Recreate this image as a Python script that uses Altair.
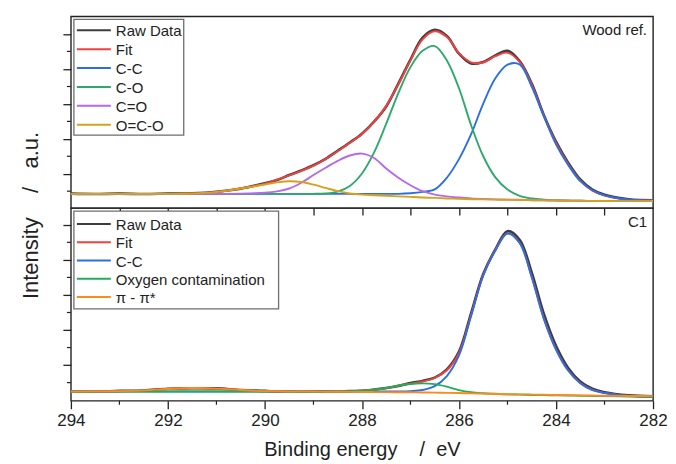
import altair as alt
import pandas as pd

# ---------------- data ----------------
E = [294, 293.5, 293, 292.5, 292, 291.5, 291, 290.5, 290, 289.75, 289.5, 289.25, 289,
     288.75, 288.5, 288.25, 288, 287.75, 287.5, 287.25, 287, 286.75, 286.5, 286.25, 286,
     285.75, 285.5, 285.25, 285, 284.75, 284.5, 284.25, 284, 283.75, 283.5, 283.25, 283,
     282.5, 282]

# Wood ref. panel
top_raw = [7.5, 7.3, 7.5, 7.3, 7.5, 7.7, 8.5, 10.1, 12.9, 14.6, 17.2, 19.6, 22.3, 25.7, 29.9,
           34.2, 38.8, 45.1, 53.0, 64.9, 77.4, 88.9, 93.0, 89.8, 80.5, 75.4, 76.2, 79.6, 82.0,
           76.6, 64.9, 48.4, 34.6, 23.7, 14.9, 9.6, 6.9, 4.6, 4.1]
top_fit = [7.4, 7.4, 7.4, 7.4, 7.4, 7.6, 8.3, 10.3, 12.7, 14.8, 17.0, 19.4, 22.1, 25.6, 29.6,
           34.0, 38.6, 44.9, 53.3, 64.5, 77.0, 88.0, 92.2, 89.2, 80.8, 76.0, 75.9, 79.2, 81.0,
           76.2, 64.3, 48.0, 34.0, 23.0, 14.3, 9.0, 6.5, 4.3, 4.0]
top_cc = [7.4, 7.4, 7.4, 7.4, 7.4, 7.4, 7.4, 7.4, 7.4, 7.4, 7.4, 7.4, 7.4, 7.4, 7.4, 7.4, 7.4,
          7.4, 7.4, 7.4, 7.7, 8.4, 9.7, 15.8, 25.5, 38.5, 54.5, 67.7, 74.8, 74.9, 63.2, 47.9,
          33.2, 22.5, 14.0, 9.3, 6.6, 4.4, 4.0]
top_co = [7.4, 7.4, 7.4, 7.4, 7.4, 7.4, 7.4, 7.4, 7.4, 7.4, 7.4, 7.4, 7.4, 7.6, 8.6, 11.5, 18.0,
          29.0, 44.0, 60.0, 73.5, 82.0, 84.5, 77.0, 62.5, 43.2, 27.0, 16.0, 9.7, 6.4, 5.0, 4.4,
          4.1, 3.9, 3.8, 3.7, 3.7, 3.6, 3.6]
top_c_o = [7.4, 7.4, 7.4, 7.4, 7.4, 7.4, 7.4, 7.5, 8.0, 8.7, 10.2, 13.2, 17.2, 21.0, 24.6, 27.4,
           28.4, 26.1, 20.6, 15.8, 11.9, 8.8, 7.0, 6.1, 5.5, 5.0, 4.7, 4.5, 4.4, 4.3, 4.1, 4.0,
           3.9, 3.8, 3.8, 3.7, 3.7, 3.6, 3.6]
top_oco = [7.4, 7.4, 7.4, 7.4, 7.4, 7.6, 8.4, 10.2, 12.3, 13.4, 14.0, 13.6, 12.2, 10.5, 8.8, 7.6,
           7.0, 6.7, 6.4, 6.1, 5.8, 5.5, 5.3, 5.0, 4.8, 4.6, 4.5, 4.4, 4.3, 4.2, 4.1, 4.0, 3.9,
           3.8, 3.8, 3.7, 3.7, 3.6, 3.6]

# C1 panel
bot_raw = [4.9, 4.7, 5.1, 5.3, 6.2, 6.5, 6.4, 5.5, 5.1, 4.8, 4.9, 4.7, 4.9, 4.8, 4.7, 5.0, 5.1,
           5.8, 6.6, 7.7, 9.2, 10.3, 12.0, 16.3, 25.5, 45.5, 65.8, 78.5, 88.0, 83.5, 66.5, 45.0,
           28.5, 17.0, 10.0, 6.2, 4.4, 2.8, 2.3]
bot_fit = [4.8, 4.8, 5.0, 5.4, 6.1, 6.6, 6.3, 5.6, 5.0, 4.9, 4.8, 4.8, 4.8, 4.8, 4.8, 4.9, 5.2,
           5.7, 6.5, 7.8, 8.9, 10.0, 11.8, 15.8, 24.8, 44.5, 65.2, 78.2, 86.9, 82.0, 64.2, 42.6,
           26.7, 15.8, 9.2, 5.6, 4.1, 2.6, 2.2]
bot_cc = [4.8, 4.8, 4.8, 4.8, 4.8, 4.8, 4.8, 4.8, 4.8, 4.8, 4.8, 4.8, 4.8, 4.8, 4.8, 4.8, 4.8,
          4.8, 4.8, 4.8, 5.0, 5.6, 7.6, 12.8, 23.5, 44.0, 65.0, 78.0, 86.8, 81.9, 64.1, 42.5,
          26.6, 15.7, 9.1, 5.5, 4.0, 2.5, 2.1]
bot_ox = [4.8, 4.8, 4.8, 4.8, 4.8, 4.8, 4.8, 4.8, 4.8, 4.8, 4.8, 4.8, 4.8, 4.8, 4.8, 4.9, 5.2,
          5.7, 6.6, 7.9, 8.7, 9.0, 8.6, 7.3, 5.5, 4.4, 3.9, 3.6, 3.3, 3.2, 3.0, 2.9, 2.8, 2.7,
          2.6, 2.5, 2.4, 2.2, 2.0]
bot_pi = [4.8, 4.8, 5.0, 5.4, 6.1, 6.6, 6.3, 5.6, 5.0, 4.9, 4.8, 4.8, 4.8, 4.7, 4.7, 4.6, 4.6,
          4.5, 4.5, 4.4, 4.4, 4.3, 4.2, 4.1, 4.0, 3.8, 3.7, 3.5, 3.4, 3.3, 3.2, 3.1, 3.0, 2.9,
          2.8, 2.7, 2.6, 2.5, 2.4]

top_names = ["Raw Data", "Fit", "C-C", "C-O", "C=O", "O=C-O"]
top_colors = ["#3d3d3d", "#f24141", "#2b6fe3", "#2fa86d", "#b36be6", "#d6a21c"]
top_series = [top_raw, top_fit, top_cc, top_co, top_c_o, top_oco]

bot_names = ["Raw Data", "Fit", "C-C", "Oxygen contamination", "π - π*"]
bot_colors = ["#3d3d3d", "#f24141", "#2b6fe3", "#22ad5c", "#ff8a1c"]
bot_series = [bot_raw, bot_fit, bot_cc, bot_ox, bot_pi]

x_major = [294, 292, 290, 288, 286, 284, 282]
x_minor = [293, 291, 289, 287, 285, 283]
x_all_inner = [293, 292, 291, 290, 289, 288, 287, 286, 285, 284, 283]

top_y_major = [17.9, 36.1, 54.3, 72.6, 90.8]
top_y_minor = [8.8, 27.0, 45.2, 63.4, 81.7]
bot_y_major = [18.5, 36.7, 54.9, 73.1, 91.3]
bot_y_minor = [9.4, 27.6, 45.8, 64.0, 82.2]

# ---------------- layout ----------------
W = 583
H_TOP = 192
H_BOT = 193
INK = "#222222"
FONT = "Liberation Sans"
NB = "\u00a0"

xscale = alt.Scale(domain=[282, 294], reverse=True, nice=False, zero=False)
yscale = alt.Scale(domain=[0, 100], nice=False, zero=False)


def panel(names, colors, series, xaxis, yaxis, y_minor, label, height,
          row0, rowstep, box_w, box_h):
    layers = []
    for i, (name, col, vals) in enumerate(zip(names, colors, series)):
        df = pd.DataFrame({"E": E, "I": vals})
        layers.append(
            alt.Chart(df).mark_line(
                color=col, strokeWidth=2.6 if i == 0 else 1.9, interpolate="catmull-rom"
            ).encode(
                x=alt.X("E:Q", scale=xscale, axis=xaxis),
                y=alt.Y("I:Q", scale=yscale, axis=yaxis),
            )
        )
    # minor y ticks
    layers.append(
        alt.Chart(pd.DataFrame({"I": y_minor})).mark_rule(color=INK, strokeWidth=1.2).encode(
            y=alt.Y("I:Q", scale=yscale, axis=yaxis),
            x=alt.value(-4), x2=alt.value(0),
        )
    )
    # legend box
    one = pd.DataFrame({"k": [0]})
    layers.append(
        alt.Chart(one).mark_rect(fill="white", stroke="#6e6e6e", strokeWidth=1.3).encode(
            x=alt.value(3), x2=alt.value(3 + box_w),
            y=alt.value(3), y2=alt.value(3 + box_h),
        )
    )
    for i, (name, col) in enumerate(zip(names, colors)):
        yy = row0 + i * rowstep
        layers.append(
            alt.Chart(one).mark_rule(color=col, strokeWidth=2).encode(
                x=alt.value(6), x2=alt.value(40), y=alt.value(yy)
            )
        )
        layers.append(
            alt.Chart(pd.DataFrame({"label": [name]})).mark_text(
                align="left", baseline="middle", fontSize=15, color=INK, font=FONT
            ).encode(x=alt.value(45), y=alt.value(yy + 1), text="label:N")
        )
    layers.append(
        alt.Chart(pd.DataFrame({"label": [label]})).mark_text(
            align="right", baseline="middle", fontSize=15, color=INK, font=FONT
        ).encode(x=alt.value(W - 6), y=alt.value(14), text="label:N")
    )
    return alt.layer(*layers).properties(width=W, height=height)


top_xaxis = alt.Axis(values=x_all_inner, tickSize=7, labels=False, title=None,
                     domain=False, grid=False, orient="bottom")
top_yaxis = alt.Axis(values=top_y_major, tickSize=8, labels=False, domain=False,
                     grid=False,
                     title="Intensity" + NB * 4 + "/" + NB * 3 + "a.u.",
                     titleFontSize=22, titleFontWeight="normal", titleColor=INK,
                     titleX=-40, titleY=H_TOP + 7, titleAngle=270, titleAlign="center",
                     titleBaseline="middle")

bot_xaxis = alt.Axis(values=x_major, tickSize=8, labelFontSize=17, labelColor=INK,
                     labelPadding=4, labelFlush=False, domain=False, grid=False,
                     format="d",
                     title="Binding energy" + NB * 4 + "/" + NB * 2 + "eV",
                     titleFontSize=20, titleFontWeight="normal", titleColor=INK,
                     titlePadding=11)
bot_yaxis = alt.Axis(values=bot_y_major, tickSize=8, labels=False, domain=False,
                     grid=False, title=None)

top = panel(top_names, top_colors, top_series, top_xaxis, top_yaxis, top_y_minor,
            "Wood ref.", H_TOP, 14, 18.9, 110, 116)

bottom = panel(bot_names, bot_colors, bot_series, bot_xaxis, bot_yaxis, bot_y_minor,
               "C1", H_BOT, 16, 18.3, 205, 98)

# minor x ticks on the bottom axis
bottom_minor = alt.Chart(pd.DataFrame({"E": x_minor})).mark_rule(
    color=INK, strokeWidth=1.2
).encode(
    x=alt.X("E:Q", scale=xscale, axis=bot_xaxis),
    y=alt.value(H_BOT), y2=alt.value(H_BOT + 4),
)
bottom = alt.layer(bottom, bottom_minor)

chart = alt.vconcat(top, bottom, spacing=0, bounds="flush").properties(
    padding={"left": 11, "top": 7, "right": 0, "bottom": 0},
).configure(font=FONT).configure_view(
    stroke=INK, strokeWidth=1.4
).configure_axis(
    tickColor=INK, tickWidth=1.3, labelFont=FONT, titleFont=FONT
)

chart.save("out.html", embed_options={"renderer": "svg", "actions": False})
